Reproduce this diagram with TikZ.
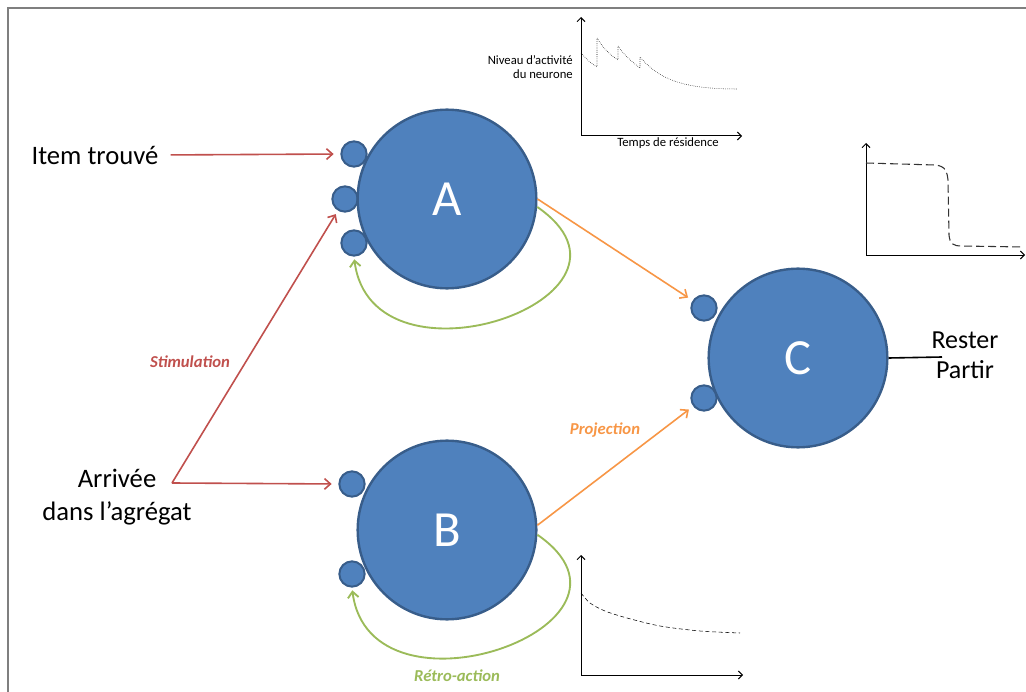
\documentclass[tikz,border=0pt]{standalone}
\usepackage{fontspec}
\setmainfont{Carlito}
\usepackage{tikz}
\usetikzlibrary{positioning}
\usetikzlibrary{arrows,arrows.meta}

\definecolor{neuronfill}{RGB}{79,129,189}
\definecolor{neuronline}{RGB}{56,93,138}
\definecolor{stimred}{RGB}{192,80,77}
\definecolor{projorange}{RGB}{247,150,70}
\definecolor{retrogreen}{RGB}{155,187,89}
\definecolor{framegray}{RGB}{127,127,127}

\tikzset{
  neuron/.style={circle, fill=neuronfill, draw=neuronline, line width=1.8pt,
    minimum size=134pt, inner sep=0pt, text=white, font=\fontsize{38}{40}\selectfont},
  synapse/.style={circle, fill=neuronfill, draw=neuronline, line width=1.5pt,
    minimum size=19pt, inner sep=0pt},
  bigtext/.style={font=\fontsize{20}{25}\selectfont, inner sep=0pt},
  arclabel/.style={font=\fontsize{12.5}{14}\selectfont\bfseries\itshape},
  axistext/.style={font=\fontsize{9.5}{11}\selectfont, inner sep=0pt},
  stim/.style={-{Straight Barb[length=4.5pt,width=8pt]}, stimred, line width=1.2pt},
  proj/.style={-{Straight Barb[length=4.5pt,width=8pt]}, projorange, line width=1.2pt},
  retro/.style={-{Straight Barb[length=4.5pt,width=8pt]}, retrogreen, line width=1.4pt},
  axis/.style={-{Straight Barb[length=3pt,width=6pt]}, line width=0.75pt}
}

\begin{document}
\begin{tikzpicture}[x=0.75pt, y=-0.75pt]
    \useasboundingbox (0,0) rectangle (1026,692);
    \draw[framegray, line width=1.5pt] (8,692) -- (8,8) -- (1026,8);

    % synapses first, the neurons lie over them
    \node[synapse] (a1) at (354,154) {};
    \node[synapse] (a2) at (345,199) {};
    \node[synapse] (a3) at (354,243) {};
    \node[synapse] (b1) at (352,484) {};
    \node[synapse] (b2) at (352,574) {};
    \node[synapse] (c1) at (704,308) {};
    \node[synapse] (c2) at (704,398) {};
    \node[neuron] (A) at (447,199) {A};
    \node[neuron] (B) at (447,530) {B};
    \node[neuron] (C) at (798,358) {C};

    \node[bigtext] (item) at (95,155) {Item trouvé};
    \node[bigtext, align=center] (arrivee) at (117,497) {Arrivée\\dans l’agrégat};
    \coordinate (fork) at (172,483);
    \draw[stim, shorten <=9pt, shorten >=5pt] (item.east) -- (a1.west);
    \draw[stim, shorten >=3pt] (fork) -- (a2);
    \draw[stim, shorten >=5pt] (fork) -- (b1.west);
    \node[arclabel, stimred] (stimlbl) at (190,362) {Stimulation};

    \draw[proj, shorten >=4pt] (A.east) -- (c1);
    \draw[proj, shorten >=4pt] (B.3) -- (c2);
    \node[arclabel, projorange] (projlbl) at (605,430) {Projection};

    \draw[retro, shorten >=2pt] (A.-5) .. controls +(130,90) and +(18,142) .. (a3.south);
    \draw[retro, shorten >=2pt] (B.-3) .. controls +(130,90) and +(18,142) .. (b2.south);
    \node[arclabel, retrogreen] (retrolbl) at (457,676) {Rétro-action};

    \coordinate (out) at (942,357);
    \draw[line width=1.2pt] (C.east) -- (out);
    \node[bigtext, align=center, font=\fontsize{19.5}{22.5}\selectfont] (decision) at (965,355) {Rester\\Partir};

    % activity of the neuron
    \draw[axis] (581,136) -- (581,17);
    \draw[axis] (581,136) -- (742,136);
    \node[axistext, align=right, anchor=east] (ylbl) at (573,67) {Niveau d’activité\\du neurone};
    \node[axistext] (xlbl) at (668,143) {Temps de résidence};
    \draw[densely dotted, thin] (581,53) .. controls (587,60) and (592,64) .. (597,67) -- (597,38)
        .. controls (603,48) and (610,55) .. (618,60) -- (618,46)
        .. controls (624,55) and (632,62) .. (640,68) -- (640,57)
        .. controls (658,78) and (680,89) .. (737,89);

    % decision curve
    \draw[axis] (866,255) -- (866,143);
    \draw[axis] (866,255) -- (1025,255);
    \draw[dash pattern=on 6pt off 3pt, line width=0.8pt, black!80] (866,163) -- (935,165)
        .. controls (946,166) and (947,172) .. (948,180) -- (949,235)
        .. controls (950,244) and (953,246) .. (962,246) -- (1023,247);

    % feedback decay
    \draw[axis] (581,675) -- (581,555);
    \draw[axis] (581,675) -- (743,675);
    \draw[densely dashed, thin] plot[smooth] coordinates {(581,593) (590,603) (605,611) (627,618) (660,626) (700,631) (740,633)};
\end{tikzpicture}
\end{document}
